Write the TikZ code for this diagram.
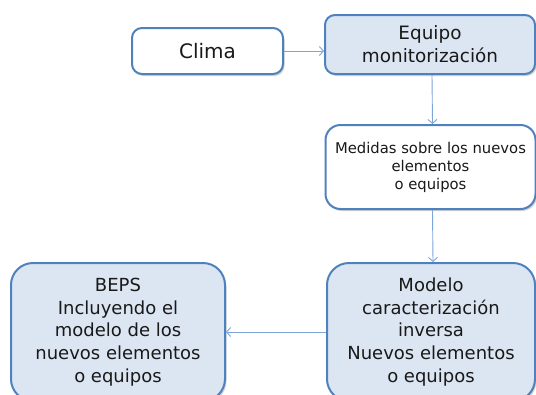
\documentclass[tikz,border=0pt]{standalone}
\usepackage{fontspec}
\setmainfont{DejaVu Sans}
\usetikzlibrary{arrows.meta,shadows}
\definecolor{bordo}{HTML}{4F81BD}
\definecolor{fillb}{HTML}{DCE6F2}
\definecolor{arr}{HTML}{7DA5D8}
\begin{document}
\begin{tikzpicture}[x=1pt,y=-1pt,
  box/.style={draw=bordo,line width=2pt,rounded corners=#1,align=center,inner sep=0pt,text=black!90,
    drop shadow={shadow xshift=1.5pt,shadow yshift=-2pt,fill=black,opacity=0.18}},
  conn/.style={draw=arr,line width=0.9pt,-{Straight Barb[length=4pt,width=9pt,line width=0.9pt]}}]
\useasboundingbox (0,0) rectangle (536,394);
\clip (0,0) rectangle (536,394);
\node[box=10pt,fill=white,minimum width=151pt,minimum height=46pt,font=\fontsize{20}{24}\selectfont] (clima) at (207.5,51) {Clima};
\node[box=10pt,fill=fillb,minimum width=210pt,minimum height=59pt,font=\fontsize{18.4}{23}\selectfont] (equipo) at (430,44.5) {Equipo\\monitorización};
\node[box=15pt,fill=white,minimum width=210pt,minimum height=84pt,font=\fontsize{14.8}{18}\selectfont] (medidas) at (430.5,167) {Medidas sobre los nuevos\\elementos\\o equipos};
\node[box=22pt,fill=fillb,minimum width=208pt,minimum height=138pt,font=\fontsize{18}{22.7}\selectfont] (modelo) at (431,332) {Modelo\\caracterización\\inversa\\Nuevos elementos\\o equipos};
\node[box=22pt,fill=fillb,minimum width=214pt,minimum height=138pt,font=\fontsize{18}{22.7}\selectfont] (beps) at (118,332) {BEPS\\Incluyendo el\\modelo de los\\nuevos elementos\\o equipos};
\draw[conn] (clima.east) -- (clima.east -| equipo.west);
\draw[conn] ([xshift=2pt]equipo.south) -- ([xshift=2pt]medidas.north);
\draw[conn] ([xshift=2pt]medidas.south) -- ([xshift=2pt]modelo.north);
\draw[conn] (modelo.west) -- (beps.east);
\end{tikzpicture}
\end{document}
